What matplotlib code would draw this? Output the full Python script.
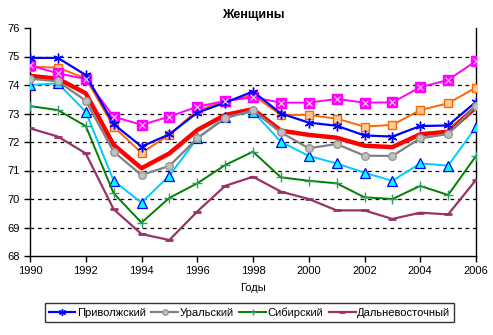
import matplotlib
matplotlib.use("Agg")
import matplotlib.pyplot as plt

plt.rcParams['font.family'] = ['Liberation Sans', 'DejaVu Sans']

years = list(range(1990, 2007))

# series
privolzh = [74.95, 74.95, 74.35, 72.63, 71.84, 72.27, 73.03, 73.38, 73.77,
            73.00, 72.68, 72.57, 72.23, 72.19, 72.56, 72.58, 73.41]
ural = [74.22, 74.13, 73.45, 71.66, 70.84, 71.16, 72.13, 72.83, 73.12,
        72.34, 71.78, 71.93, 71.52, 71.51, 72.13, 72.28, 73.27]
sibir = [73.26, 73.12, 72.56, 70.20, 69.17, 70.04, 70.55, 71.19, 71.66,
         70.76, 70.64, 70.55, 70.06, 70.00, 70.46, 70.14, 71.51]
dalvost = [72.48, 72.19, 71.60, 69.64, 68.77, 68.56, 69.56, 70.46, 70.78,
           70.26, 70.00, 69.60, 69.60, 69.30, 69.52, 69.46, 70.67]
red_s = [74.32, 74.22, 73.71, 71.90, 71.08, 71.60, 72.42, 72.95, 73.15,
         72.40, 72.25, 72.15, 71.87, 71.82, 72.27, 72.36, 73.22]
orange_s = [74.64, 74.61, 74.23, 72.54, 71.62, 72.25, 73.12, 73.41, 73.65,
            72.95, 72.95, 72.82, 72.54, 72.60, 73.12, 73.36, 73.91]
cyan_s = [74.00, 74.06, 73.06, 70.64, 69.87, 70.82, 72.13, 72.87, 73.06,
          72.01, 71.51, 71.25, 70.92, 70.64, 71.25, 71.17, 72.52]
magenta_s = [74.69, 74.41, 74.21, 72.89, 72.60, 72.89, 73.24, 73.44, 73.57,
             73.38, 73.38, 73.51, 73.38, 73.39, 73.92, 74.18, 74.84]

fig = plt.figure(figsize=(4.93, 3.35), dpi=100)
ax = fig.add_axes([30 / 493, 1 - 256 / 335, 446 / 493, 228 / 335])

# dashed gridlines
for yv in range(69, 76):
    ax.axhline(yv, color='black', lw=0.9, ls=(0, (3, 3)), zorder=0)

ax.plot(years, red_s, color='#FF0000', lw=3.2, zorder=2)
ax.plot(years, orange_s, color='#FF6600', lw=1.4, marker='s', ms=6,
        mfc='#FFCC99', mec='#FF6600', mew=1, zorder=3)
ax.plot(years, cyan_s, color='#00CCFF', lw=1.4, marker='^', ms=7,
        mfc='#00FFFF', mec='#0000FF', mew=0.9, zorder=3)
ax.plot(years, magenta_s, color='#FF00FF', lw=1.4, marker='s', ms=7.5,
        mfc='#FF00FF', mec='#FF00FF', zorder=4)
ax.plot(years, magenta_s, ls='none', marker='x', ms=4, mec='#FFCCFF',
        mew=0.8, zorder=5)

l1, = ax.plot(years, privolzh, color='#0000FF', lw=1.6, marker=(6, 2, 0),
              ms=7, mec='#0000FF', mew=1, zorder=4, label='Приволжский')
l2, = ax.plot(years, ural, color='#808080', lw=1.6, marker='o', ms=5.5,
              mfc='#C0C0C0', mec='#969696', zorder=4, label='Уральский')
l3, = ax.plot(years, sibir, color='#008000', lw=1.4, marker='+', ms=7,
              mec='#339966', mew=1, zorder=3, label='Сибирский')
l4, = ax.plot(years, dalvost, color='#993366', lw=1.6, marker='_', ms=6,
              mew=2, zorder=3, label='Дальневосточный')

ax.set_xlim(1990, 2006)
ax.set_ylim(68, 76)
ax.set_xticks(range(1990, 2007, 2))
ax.set_yticks(range(68, 77))
ax.tick_params(direction='out', length=4, width=1, labelsize=8, colors='black')
ax.tick_params(axis='x', pad=3)
ax.spines['top'].set_visible(False)
for s in ['left', 'right', 'bottom']:
    ax.spines[s].set_linewidth(1)

ax.set_title('Женщины', fontsize=9, fontweight='bold', pad=7)
ax.set_xlabel('Годы', fontsize=8, labelpad=5)

leg = fig.legend(handles=[l1, l2, l3, l4], loc='center',
                 bbox_to_anchor=(249.5 / 493, 1 - 312.5 / 335), ncol=4,
                 fontsize=8, frameon=True, fancybox=False, edgecolor='black',
                 handlelength=2.4, handletextpad=0.15, columnspacing=0.5,
                 borderpad=0.35, borderaxespad=0, markerscale=0.7)
leg.get_frame().set_linewidth(1)

fig.savefig('out.png', dpi=100)
